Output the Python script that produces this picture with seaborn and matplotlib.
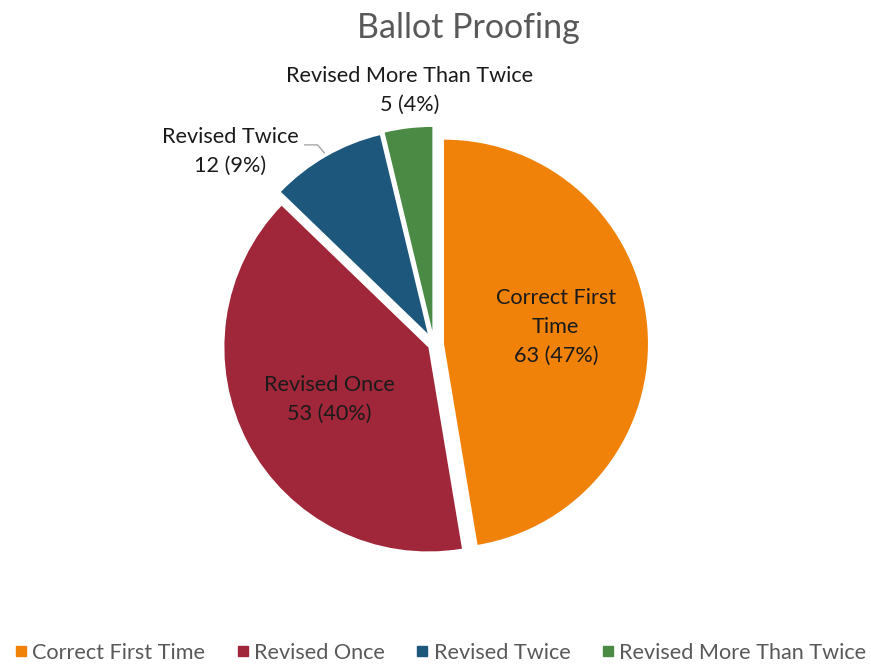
import matplotlib
matplotlib.use("Agg")
import matplotlib.pyplot as plt
import seaborn as sns
import numpy as np

categories = ["Correct First Time", "Revised Once", "Revised Twice", "Revised More Than Twice"]
values = [63, 53, 12, 5]
percent_labels = ["47%", "40%", "9%", "4%"]
slice_names = ["Correct First\nTime", "Revised Once", "Revised Twice", "Revised More Than Twice"]

sns.set_style("white")
plt.rcParams["font.family"] = ["Lato", "DejaVu Sans"]

colors = sns.color_palette(["#F0820A", "#A0263A", "#1D587C", "#4B8A45"])

W, H = 871, 664
fig = plt.figure(figsize=(W / 100, H / 100), dpi=100)
cx, cy, r = 434, 664 - 344.5, 204
side = 2.5 * r
ax = fig.add_axes([(cx - side / 2) / W, (cy - side / 2) / H, side / W, side / H])

explode = [0.049, 0.031, 0.062, 0.067]
wedges, _ = ax.pie(values, colors=colors, startangle=90, counterclock=False,
                   explode=explode, wedgeprops=dict(linewidth=0))
ax.set_aspect("equal")

label_color = "#1a1a1a"
fs = 15.6
ls = 1.55
for i, w in enumerate(wedges):
    mid = np.deg2rad((w.theta1 + w.theta2) / 2)
    ox, oy = w.center
    text = f"{slice_names[i]}\n{values[i]} ({percent_labels[i]})"
    if i == 0:
        rr = 0.55
        ax.text(ox + rr * np.cos(mid), oy + rr * np.sin(mid) + 0.035, text, ha="center", va="center",
                fontsize=fs, color=label_color, linespacing=ls)
    elif i == 1:
        rr = 0.55
        ax.text(ox + rr * np.cos(mid), oy + rr * np.sin(mid), text, ha="center", va="center",
                fontsize=fs, color=label_color, linespacing=ls)
    elif i == 2:
        ex, ey = ox + 1.02 * np.cos(mid), oy + 1.02 * np.sin(mid)
        ax.annotate(text, xy=(ex, ey), xytext=(-1.0, 0.945), ha="center", va="center",
                    fontsize=fs, color=label_color, linespacing=ls,
                    arrowprops=dict(arrowstyle="-", color="#A6A6A6", lw=1,
                                    shrinkA=2, shrinkB=0,
                                    connectionstyle="angle,angleA=0,angleB=130,rad=0",
                                    relpos=(1.0, 0.64)))
    else:
        ax.text(-0.12, 1.245, text, ha="center", va="center",
                fontsize=fs, color=label_color, linespacing=ls)

fig.text(468 / W, 1 - 28 / H, "Ballot Proofing", ha="center", va="center",
         fontsize=24.5, color="#595959")

handles = [plt.Line2D([0], [0], marker="s", linestyle="", markersize=7,
                      markerfacecolor=c, markeredgecolor=c) for c in colors]
fig.legend(handles, categories, loc="center", bbox_to_anchor=(441 / W, 1 - 653 / H),
           ncol=4, frameon=False, fontsize=fs, labelcolor="#595959",
           handlelength=0.45, handletextpad=0.3, columnspacing=1.5)

fig.savefig("out.png", dpi=100, facecolor="white")
